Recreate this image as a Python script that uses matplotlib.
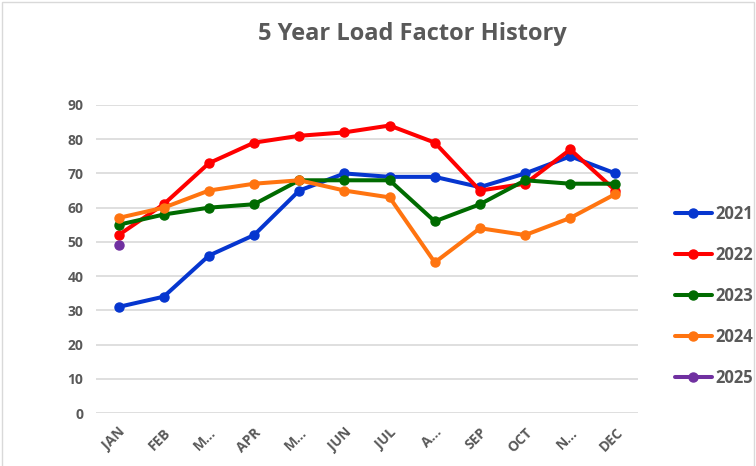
import matplotlib
matplotlib.use("Agg")
import matplotlib.pyplot as plt
from matplotlib.patches import Rectangle

months = ["JAN", "FEB", "M…", "APR", "M…", "JUN", "JUL", "A…", "SEP", "OCT", "N…", "DEC"]
y2021 = [31, 34, 46, 52, 65, 70, 69, 69, 66, 70, 75, 70]
y2022 = [52, 61, 73, 79, 81, 82, 84, 79, 65, 67, 77, 65]
y2023 = [55, 58, 60, 61, 68, 68, 68, 56, 61, 68, 67, 67]
y2024 = [57, 60, 65, 67, 68, 65, 63, 44, 54, 52, 57, 64]
y2025 = [49]
yticks = [0, 10, 20, 30, 40, 50, 60, 70, 80, 90]

series = [
    ("2021", y2021, "#0636CF"),
    ("2022", y2022, "#FF0000"),
    ("2023", y2023, "#006B00"),
    ("2024", y2024, "#FF7410"),
    ("2025", y2025, "#7030A0"),
]

plt.rcParams['font.family'] = ['Open Sans', 'DejaVu Sans']
gray = "#595959"

fig = plt.figure(figsize=(7.56, 4.66), dpi=100)
ax = fig.add_axes([0.127, 0.1137, 0.717, 0.661])

x = list(range(len(months)))
for name, vals, col in series:
    ax.plot(x[:len(vals)], vals, color=col, lw=2.9, marker='o', ms=6.5,
            label=name, solid_capstyle='round')

ax.set_xlim(-0.5, 11.5)
ax.set_ylim(0, 90)
ax.set_yticks(yticks)
ax.set_yticklabels([str(v) for v in yticks], fontsize=10, fontweight='bold', color=gray)
ax.set_xticks(x)
ax.set_xticklabels(months, rotation=45, ha='right', va='top', rotation_mode='anchor',
                   fontsize=10, fontweight='bold', color=gray)
ax.tick_params(axis='y', length=0, pad=9)
ax.tick_params(axis='x', length=0, pad=9)
ax.grid(axis='y', color='#D9D9D9', lw=1.2)
ax.set_axisbelow(True)
for s in ax.spines.values():
    s.set_visible(False)

fig.text(0.545, 0.928, "5 Year Load Factor History", ha='center', va='center',
         fontsize=17, fontweight='bold', color=gray)

leg = fig.legend(loc='upper left', bbox_to_anchor=(0.884, 0.575), frameon=False,
                 prop={'size': 12, 'weight': 'bold'}, labelspacing=1.38,
                 handlelength=2.2, handletextpad=0.2, borderaxespad=0)
for t in leg.get_texts():
    t.set_color(gray)

fig.add_artist(Rectangle((0.002, -0.01), 0.996, 1.005, transform=fig.transFigure,
                         fill=False, ec='#D9D9D9', lw=1))

fig.savefig("out.png", dpi=100)
